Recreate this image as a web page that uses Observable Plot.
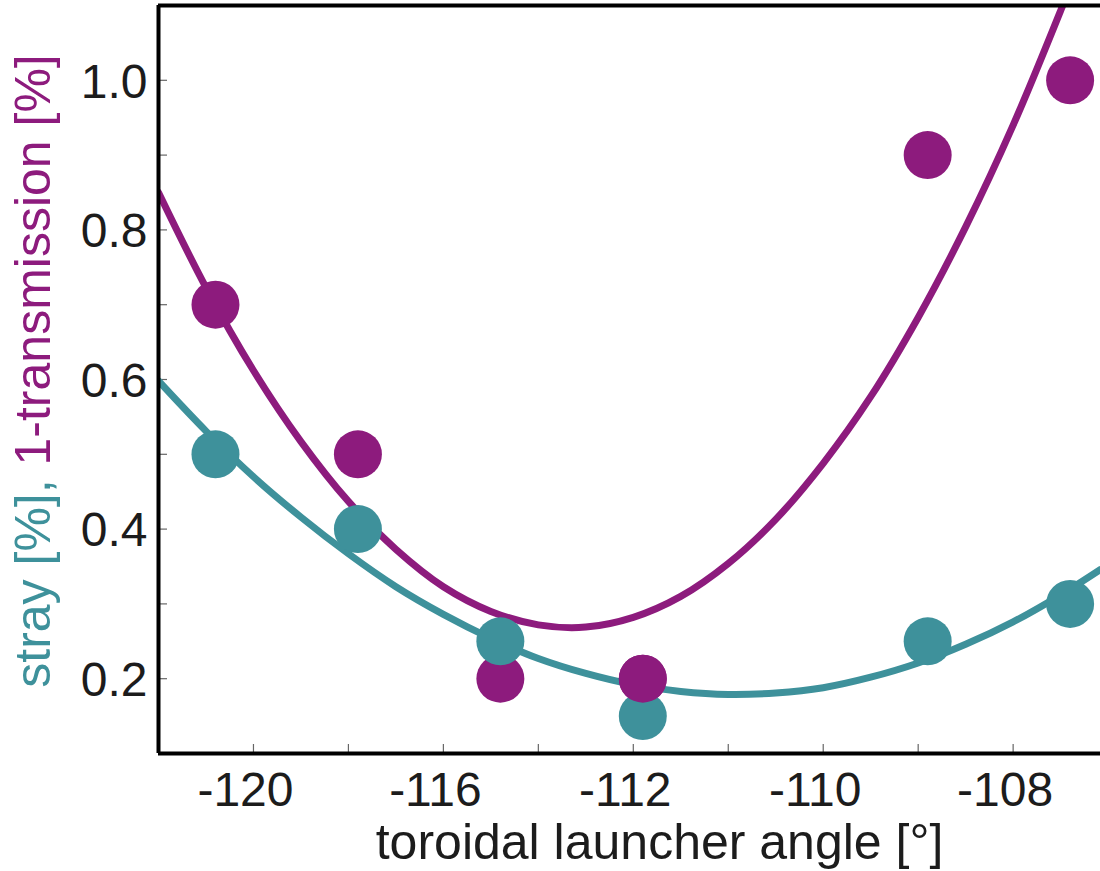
<!DOCTYPE html>
<html>
<head>
<meta charset="utf-8">
<script src="https://cdn.jsdelivr.net/npm/d3@7"></script>
<script src="https://cdn.jsdelivr.net/npm/@observablehq/plot@0.6"></script>
<style>
  html, body { margin: 0; padding: 0; background: #fff; }
  #chart svg { display: block; }
</style>
</head>
<body>
<div id="chart"></div>
<script>
// ---- data ----
// printed x axis: labelled ticks are evenly spaced although their values are not
const xLabelAngles = [-120, -116, -112, -110, -108];
const xTickAngles = [-120, -118, -116, -114, -112, -111, -110, -109, -108];
const xDomainAngles = [-122, -107.08];
const yLabelTicks = [0.2, 0.4, 0.6, 0.8, 1.0];
const yMinorTicks = [0.2, 0.3, 0.4, 0.5, 0.6, 0.7, 0.8, 0.9, 1.0];
const yDomain = [0.1, 1.1];

const pointAngles = [-120.8, -117.8, -114.8, -111.9, -108.9, -107.4];
const transmissionLoss = [0.7, 0.5, 0.2, 0.2, 0.9, 1.0];   // 1-transmission [%]
const strayValues = [0.5, 0.4, 0.25, 0.15, 0.25, 0.3];      // stray [%]

// fitted curves
const curveAngles = [-122, -121, -120, -119, -118, -117, -116, -115, -114, -113, -112,
                     -111.5, -111, -110.5, -110, -109.5, -109, -108.5, -108, -107.5, -107.3];
const transmissionFit = [0.850, 0.723, 0.612, 0.517, 0.437, 0.373, 0.323, 0.290, 0.272, 0.269, 0.282,
                         0.310, 0.354, 0.413, 0.488, 0.577, 0.683, 0.804, 0.940, 1.093, 1.158];
const strayCurveAngles = [-122, -121, -120, -119, -118, -117, -116, -115, -114, -113, -112,
                          -111.5, -111, -110.5, -110, -109.5, -109, -108.5, -108, -107.5, -107.08];
const strayFit = [0.598, 0.531, 0.470, 0.416, 0.367, 0.323, 0.286, 0.254, 0.227, 0.207, 0.192,
                  0.183, 0.179, 0.181, 0.188, 0.202, 0.221, 0.246, 0.276, 0.312, 0.346];

const xTitle = "toroidal launcher angle [°]";
const yTitleParts = ["stray [%], ", "1-transmission [%]"];

const purple = "#8d1b7d";
const teal = "#3e919b";
const ink = "#1c1c1c";

// ---- piecewise axis: angle -> printed position ----
const toPos = d3.scaleLinear().domain(xLabelAngles).range(xLabelAngles.map((_, i) => i));
const labelByPos = new Map(xLabelAngles.map(a => [toPos(a), String(a)]));

const pts = (vals) => pointAngles.map((a, i) => ({x: toPos(a), y: vals[i]}));
const crv = (angles, vals) => angles.map((a, i) => ({x: toPos(a), y: vals[i]}));

const W = 1100, H = 871, mL = 158, mR = 0, mT = 5, mB = 118;
const plotW = W - mL - mR, plotH = H - mT - mB;

const transPts = pts(transmissionLoss);
const strayPts = pts(strayValues);

const svg = Plot.plot({
  width: W, height: H,
  marginLeft: mL, marginRight: mR, marginTop: mT, marginBottom: mB,
  style: {fontFamily: "'Liberation Sans', Arial, sans-serif", background: "#fff", color: ink},
  x: {domain: xDomainAngles.map(toPos), axis: null},
  y: {domain: yDomain, axis: null},
  marks: [
    // inward minor ticks
    Plot.ruleY(yMinorTicks, {stroke: "#666", strokeWidth: 1.2, insetRight: plotW - 9}),
    Plot.ruleX(xTickAngles.map(toPos), {stroke: "#666", strokeWidth: 1.2, insetTop: plotH - 9}),
    // tick labels
    Plot.axisY(yLabelTicks, {anchor: "left", tickSize: 0, tickPadding: 11, fontSize: 48,
      tickFormat: d => d.toFixed(1), dy: 2, label: null, fill: ink}),
    Plot.axisX(xLabelAngles.map(toPos), {anchor: "bottom", tickSize: 0, tickPadding: 18, fontSize: 48,
      tickFormat: d => labelByPos.get(d), dx: -8, label: null, fill: ink}),
    // fits
    Plot.line(crv(curveAngles, transmissionFit), {x: "x", y: "y", stroke: purple, strokeWidth: 7,
      curve: "catmull-rom", clip: true}),
    Plot.line(crv(strayCurveAngles, strayFit), {x: "x", y: "y", stroke: teal, strokeWidth: 7,
      curve: "catmull-rom", clip: true}),
    // measurements
    Plot.dot(transPts, {x: "x", y: "y", r: 24, fill: purple}),
    Plot.dot(strayPts, {x: "x", y: "y", r: 24, fill: teal}),
    Plot.dot(transPts.filter((d, i) => i === 3), {x: "x", y: "y", r: 24, fill: purple}),
    // frame lines
    Plot.ruleX([xDomainAngles[0]].map(toPos), {stroke: "#000", strokeWidth: 4}),
    Plot.ruleY([yDomain[0]], {stroke: "#000", strokeWidth: 4}),
    Plot.ruleY([yDomain[1]], {stroke: "#000", strokeWidth: 4}),
    // x title
    Plot.text([xTitle], {text: d => d, frameAnchor: "bottom", lineAnchor: "bottom",
      dy: 105, dx: 30, fontSize: 50, fill: ink})
  ]
});

// two-coloured rotated y title
const yt = d3.select(svg).append("text")
  .attr("transform", "translate(50,371) rotate(-90)")
  .attr("text-anchor", "middle")
  .attr("font-size", 50)
  .attr("font-family", "'Liberation Sans', Arial, sans-serif");
yt.append("tspan").attr("fill", teal).attr("xml:space", "preserve").text(yTitleParts[0]);
yt.append("tspan").attr("fill", purple).text(yTitleParts[1]);

document.getElementById("chart").appendChild(svg);
</script>
</body>
</html>
